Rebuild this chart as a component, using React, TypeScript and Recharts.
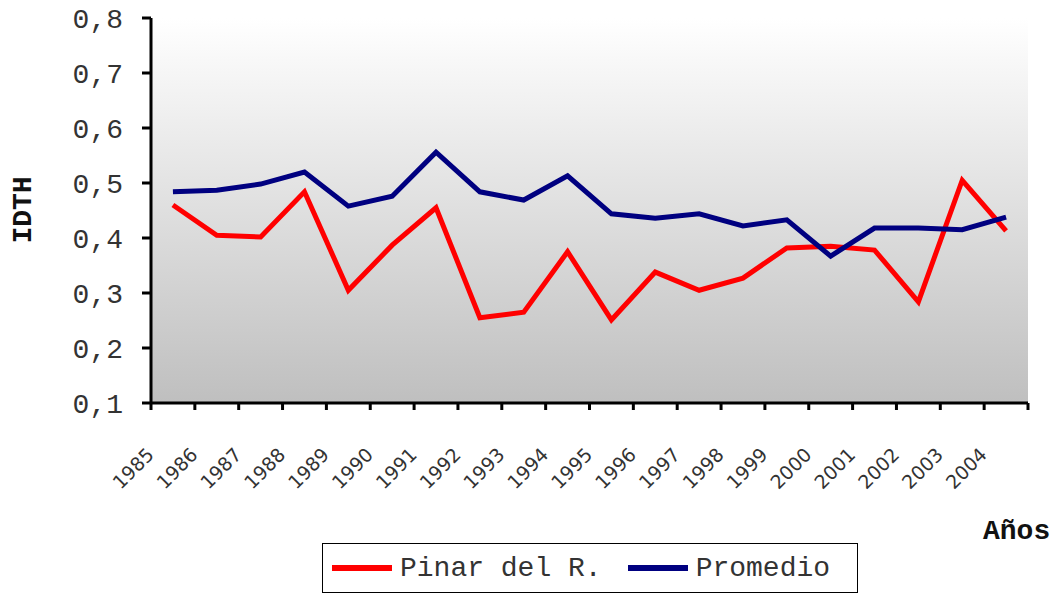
import React from 'react';
import { LineChart, Line, XAxis, YAxis, CartesianGrid, Legend, Label } from 'recharts';

const years = [1985, 1986, 1987, 1988, 1989, 1990, 1991, 1992, 1993, 1994, 1995, 1996, 1997, 1998, 1999, 2000, 2001, 2002, 2003, 2004];
const pinar = [0.46, 0.405, 0.402, 0.484, 0.305, 0.387, 0.455, 0.255, 0.265, 0.375, 0.251, 0.338, 0.305, 0.327, 0.382, 0.385, 0.378, 0.284, 0.505, 0.413];
const promedio = [0.484, 0.487, 0.498, 0.52, 0.458, 0.476, 0.556, 0.484, 0.469, 0.513, 0.444, 0.436, 0.444, 0.422, 0.433, 0.367, 0.418, 0.418, 0.415, 0.438];
const yTicks = [0.1, 0.2, 0.3, 0.4, 0.5, 0.6, 0.7, 0.8];
const xTicks = [...years.map((y) => y - 0.5), 2004.5];
const seriesNames = ['Pinar del R.', 'Promedio'];
const seriesColors = ['#ff0000', '#000080'];

const data = years.map((year, i) => ({ year, pinar: pinar[i], promedio: promedio[i] }));

const MONO = "'Liberation Mono', 'Courier New', monospace";
const SANS = "'DejaVu Sans', Verdana, sans-serif";

const XTick = (props: any) => {
  const { x, y, payload } = props;
  if (payload.value > 2004) return null;
  const label = String(Math.round(payload.value + 0.5));
  return (
    <g transform={`translate(${x + 4},${y + 44})`}>
      <text x={0} y={0} textAnchor="end" transform="rotate(-45)" fontFamily={SANS} fontSize={19} fill="#333">
        {label}
      </text>
    </g>
  );
};

const renderLegend = () => (
  <div
    style={{
      boxSizing: 'border-box',
      width: 536,
      height: 50,
      border: '1.5px solid #000',
      background: '#fff',
      display: 'flex',
      alignItems: 'center',
      paddingLeft: 9,
      fontFamily: MONO,
      fontSize: 28,
      color: '#333',
      whiteSpace: 'nowrap',
    }}
  >
    {seriesNames.map((n, i) => (
      <span key={n} style={{ display: 'flex', alignItems: 'center', marginRight: i === 0 ? 26 : 0 }}>
        <svg width={60} height={8} style={{ marginRight: 8 }}>
          <line x1={0} y1={4} x2={60} y2={4} stroke={seriesColors[i]} strokeWidth={6} />
        </svg>
        <span>{n}</span>
      </span>
    ))}
  </div>
);

export default function App() {
  return (
    <div style={{ position: 'absolute', left: 0, top: 0, width: 1060, height: 593, background: '#fff' }}>
      <LineChart width={1060} height={593} data={data} margin={{ top: 18, right: 32, bottom: 90, left: 0 }}>
        <defs>
          <linearGradient id="bgGrad" x1="0" y1="0" x2="0" y2="1">
            <stop offset="0" stopColor="#ffffff" />
            <stop offset="1" stopColor="#bfbfbf" />
          </linearGradient>
        </defs>
        <CartesianGrid horizontal={false} vertical={false} fill="url(#bgGrad)" fillOpacity={1} />
        <XAxis
          type="number"
          dataKey="year"
          domain={[1984.5, 2004.5]}
          ticks={xTicks}
          interval={0}
          height={100}
          tick={(p: any) => <XTick {...p} />}
          tickSize={7}
          axisLine={{ stroke: '#000', strokeWidth: 3 }}
          tickLine={{ stroke: '#000', strokeWidth: 3 }}
        >
          <Label
            content={() => (
              <text x={983} y={539} fontFamily={MONO} fontSize={28} fontWeight="bold" fill="#111">
                Años
              </text>
            )}
          />
        </XAxis>
        <YAxis
          type="number"
          domain={[0.1, 0.8]}
          ticks={yTicks}
          interval={0}
          width={151}
          tickFormatter={(v: number) => v.toFixed(1).replace('.', ',')}
          tick={{ fontFamily: MONO, fontSize: 28, fill: '#333' }}
          tickSize={9}
          tickMargin={19}
          axisLine={{ stroke: '#000', strokeWidth: 3 }}
          tickLine={{ stroke: '#000', strokeWidth: 3 }}
        >
          <Label
            content={() => (
              <text
                x={31}
                y={210}
                transform="rotate(-90 31 210)"
                textAnchor="middle"
                fontFamily={MONO}
                fontSize={28}
                fontWeight="bold"
                fill="#111"
              >
                IDTH
              </text>
            )}
          />
        </YAxis>
        <Line type="linear" dataKey="pinar" name={seriesNames[0]} stroke={seriesColors[0]} strokeWidth={5} dot={false} isAnimationActive={false} />
        <Line type="linear" dataKey="promedio" name={seriesNames[1]} stroke={seriesColors[1]} strokeWidth={5} dot={false} isAnimationActive={false} />
        <Legend
          layout="horizontal"
          verticalAlign="middle"
          align="center"
          content={renderLegend}
          wrapperStyle={{ position: 'absolute', left: 322, top: 543, width: 536, height: 50 }}
        />
      </LineChart>
    </div>
  );
}
